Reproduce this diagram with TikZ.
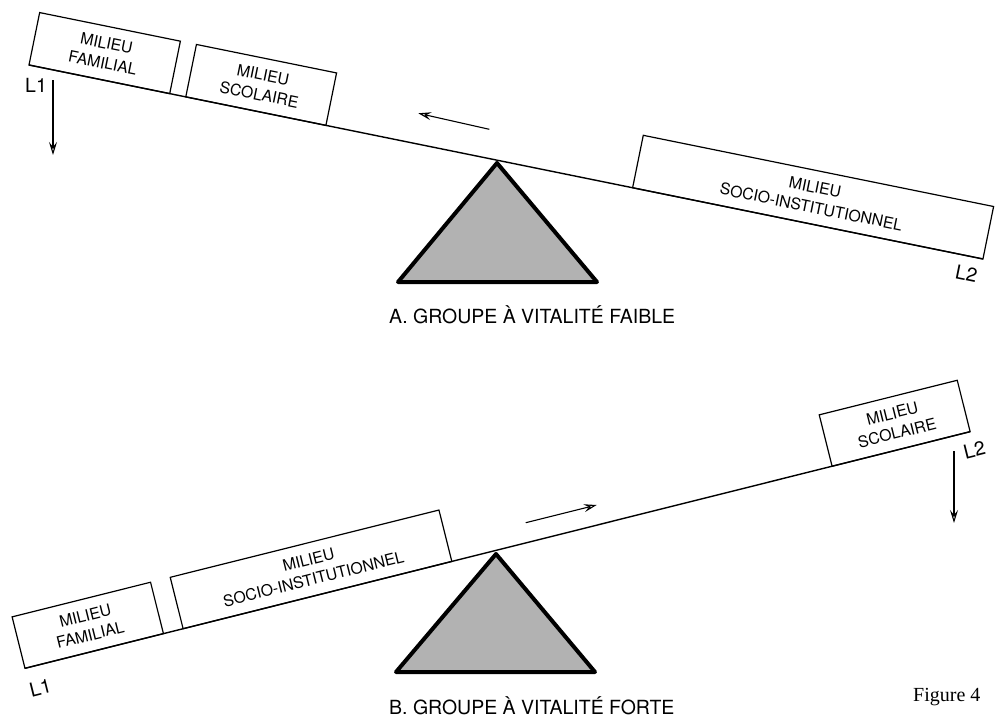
\documentclass[tikz,border=0pt]{standalone}
\usepackage{fontspec}
\setmainfont{TeX Gyre Heros}
\newfontfamily\figfont{Liberation Serif}
\usetikzlibrary{calc,arrows.meta}
\begin{document}
\begin{tikzpicture}[x=1pt,y=-1pt,
  box/.style={draw, line width=1.2pt, rectangle, inner sep=0pt, outer sep=0pt,
    minimum height=53.5pt, align=center, font=\fontsize{15.8}{20}\selectfont},
  beam/.style={line width=1.4pt},
  pivot/.style={draw, line width=4pt, line join=round, fill=black!30},
  arr/.style={line width=1.1pt, -{Stealth[open,length=13pt,width=8pt,inset=5pt]}},
  lab/.style={font=\fontsize{19.5}{20}\selectfont, inner sep=0pt},
  captext/.style={font=\fontsize{19.5}{20}\selectfont, inner sep=0pt}]
\useasboundingbox (0,0) rectangle (998,717);

% ---------------- A ----------------
\coordinate (A0) at (29,65);
\coordinate (A1) at (983,259);
\coordinate (tA) at (497,163);
\coordinate (tAl) at (398,282);
\coordinate (tAr) at (597,282);
\draw[pivot] (tA) -- (tAl) -- (tAr) -- cycle;
\draw[beam] (A0) -- (A1);
\node[box, rotate=-11.49, anchor=south west, minimum width=143.6pt] (afam) at (A0) {MILIEU\\FAMILIAL};
\node[box, rotate=-11.49, anchor=south west, minimum width=143pt] (asco) at ($(A0)!160pt!(A1)$) {MILIEU\\SCOLAIRE};
\node[box, rotate=-11.49, anchor=south west, minimum width=357.5pt] (asoc) at ($(A0)!616pt!(A1)$) {MILIEU\\SOCIO-INSTITUTIONNEL};

\coordinate (aarS) at (489.3,129.3);
\coordinate (aarE) at (418.3,113.3);
\draw[arr] (aarS) -- (aarE);
\coordinate (al1S) at (53,80);
\coordinate (al1E) at (53,155);
\draw[arr] (al1S) -- (al1E);

\node[lab, anchor=base west] (aL1) at (25,92.7) {L1};
\node[lab, rotate=-11.49] (aL2) at (966.5,274) {L2};
\node[captext, anchor=base west] (capA) at (389,323) {A. GROUPE À VITALITÉ FAIBLE};

% ---------------- B ----------------
\coordinate (B0) at (25,668.3);
\coordinate (B1) at (970,431.7);
\coordinate (tB) at (496,554);
\coordinate (tBl) at (396,672);
\coordinate (tBr) at (595,672);
\draw[pivot] (tB) -- (tBl) -- (tBr) -- cycle;
\draw[beam] (B0) -- (B1);
\node[box, rotate=14.06, anchor=south west, minimum width=142.7pt, minimum height=53pt] (bfam) at (B0) {MILIEU\\FAMILIAL};
\node[box, rotate=14.06, anchor=south west, minimum width=277pt, minimum height=53pt] (bsoc) at ($(B0)!163pt!(B1)$) {MILIEU\\SOCIO-INSTITUTIONNEL};
\node[box, rotate=14.06, anchor=south west, minimum width=142.3pt, minimum height=53pt] (bsco) at ($(B0)!832pt!(B1)$) {MILIEU\\SCOLAIRE};

\coordinate (barS) at (525.7,522.7);
\coordinate (barE) at (596.7,505);
\draw[arr] (barS) -- (barE);
\coordinate (bl2S) at (954,451);
\coordinate (bl2E) at (954,523);
\draw[arr] (bl2S) -- (bl2E);

\node[lab, rotate=14.06] (bL1) at (40.5,687.5) {L1};
\node[lab, rotate=14.06] (bL2) at (974.5,450) {L2};
\node[captext, anchor=base west] (capB) at (389,714) {B. GROUPE À VITALITÉ FORTE};

\node[anchor=base west, inner sep=0pt, font=\figfont\fontsize{20}{20}\selectfont] (fig) at (913,701.7) {Figure 4};
\end{tikzpicture}
\end{document}
